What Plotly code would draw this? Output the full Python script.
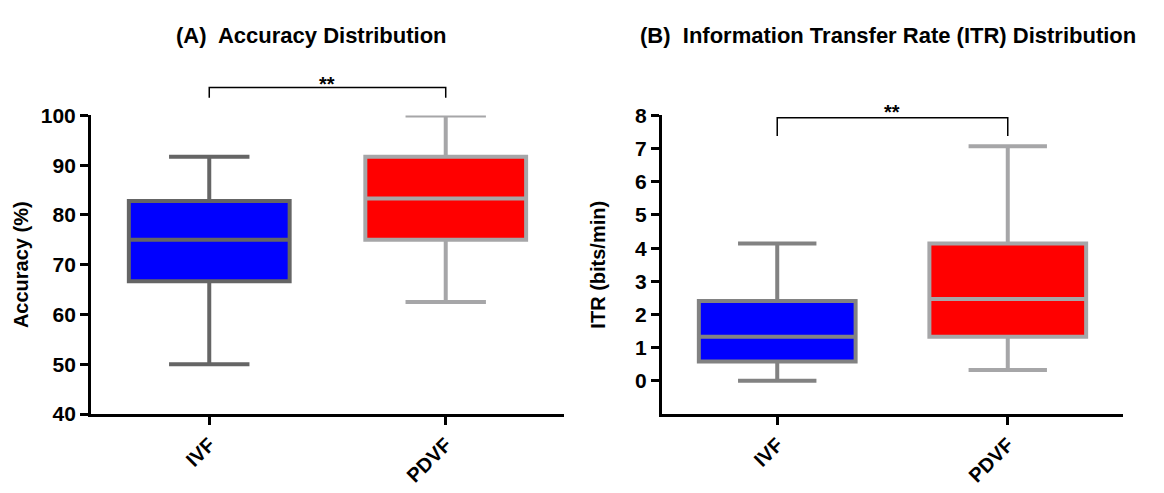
import plotly.graph_objects as go

# ---- data ---------------------------------------------------------------
groups = ["IVF", "PDVF"]

# (A) accuracy, %
acc_low = [50.0, 62.5]
acc_q1 = [66.7, 75.0]
acc_median = [75.0, 83.3]
acc_q3 = [82.8, 91.7]
acc_high = [91.7, 100.0]

# (B) information transfer rate, bits/min
itr_low = [0.0, 0.33]
itr_q1 = [0.58, 1.33]
itr_median = [1.33, 2.47]
itr_q3 = [2.41, 4.14]
itr_high = [4.14, 7.07]

acc_ticks = [40, 50, 60, 70, 80, 90, 100]
itr_ticks = [0, 1, 2, 3, 4, 5, 6, 7, 8]

# ---- styling ------------------------------------------------------------
FONT = "Liberation Sans, Arial, sans-serif"
fills = ["#0000FF", "#FF0000"]
edges_a = ["#656565", "#A6A6A8"]
edges_b = ["#828282", "#A6A6A8"]
X_RANGE = [-0.5, 1.5]
Y_DOMAIN = [0.1446, 0.7799]

fig = go.Figure()


def add_boxes(low, q1, med, q3, high, edges, xa, ya):
    for i, g in enumerate(groups):
        fig.add_trace(go.Box(
            x=[g], lowerfence=[low[i]], q1=[q1[i]], median=[med[i]],
            q3=[q3[i]], upperfence=[high[i]],
            fillcolor=fills[i], line=dict(color=edges[i], width=4),
            width=0.68, whiskerwidth=0.5, boxpoints=False,
            hoverinfo="skip", showlegend=False, xaxis=xa, yaxis=ya,
        ))


add_boxes(acc_low, acc_q1, acc_median, acc_q3, acc_high, edges_a, "x", "y")
add_boxes(itr_low, itr_q1, itr_median, itr_q3, itr_high, edges_b, "x2", "y2")

tickfont = dict(family=FONT, size=21, color="black", weight="bold")
xtickfont = dict(family=FONT, size=20, color="black", weight="bold")
titlefont = dict(family=FONT, size=20, color="black", weight="bold")

xcommon = dict(
    type="category", categoryorder="array", categoryarray=groups,
    range=X_RANGE, showline=True, linecolor="black", linewidth=3,
    ticks="outside", ticklen=8, tickwidth=3, tickcolor="black",
    tickangle=-45, tickfont=xtickfont, showgrid=False, zeroline=False,
    fixedrange=True,
)
ycommon = dict(
    domain=Y_DOMAIN, showline=True, linecolor="black", linewidth=3,
    ticks="outside", ticklen=8, tickwidth=3, tickcolor="black",
    tickfont=tickfont, showgrid=False, zeroline=False, fixedrange=True,
)

fig.update_layout(
    width=1164, height=493,
    margin=dict(l=0, r=0, t=0, b=0),
    paper_bgcolor="white", plot_bgcolor="white",
    boxmode="overlay",
    xaxis=dict(domain=[0.0782, 0.4845], anchor="y", **xcommon),
    yaxis=dict(anchor="x", range=[40, 100], tickvals=acc_ticks,
               title=dict(text="Accuracy (%)", font=titlefont, standoff=7),
               **ycommon),
    xaxis2=dict(domain=[0.5687, 0.9648], anchor="y2", **xcommon),
    yaxis2=dict(anchor="x2", range=[-1, 8], tickvals=itr_ticks,
                title=dict(text="ITR (bits/min)", font=titlefont, standoff=25),
                **ycommon),
)


def xdom(i):
    """Position of category i inside the x-axis domain."""
    return (i - X_RANGE[0]) / (X_RANGE[1] - X_RANGE[0])


def bracket(xa, ya, top, foot, label_y):
    x0, x1 = xdom(0), xdom(1)
    fig.add_shape(
        type="path", xref=f"{xa} domain", yref=f"{ya} domain",
        path=f"M {x0} {foot} L {x0} {top} L {x1} {top} L {x1} {foot}",
        line=dict(color="black", width=1.5),
    )
    fig.add_annotation(
        text="**", xref=f"{xa} domain", yref=f"{ya} domain",
        x=(x0 + x1) / 2, y=label_y, xanchor="center", yanchor="middle",
        showarrow=False, font=dict(family=FONT, size=20, color="black",
                                   weight="bold"),
    )


bracket("x", "y", 1.094, 1.059, 1.104)
bracket("x2", "y2", 0.992, 0.931, 1.011)

panel_font = dict(family=FONT, size=22, color="black", weight="bold")
fig.add_annotation(text="(A)  Accuracy Distribution", xref="paper",
                   yref="paper", x=0.2676, y=0.951, xanchor="center",
                   yanchor="middle", showarrow=False, font=panel_font)
fig.add_annotation(text="(B)  Information Transfer Rate (ITR) Distribution",
                   xref="paper", yref="paper", x=0.7625, y=0.951,
                   xanchor="center", yanchor="middle", showarrow=False,
                   font=panel_font)

fig.write_html("out.html")
